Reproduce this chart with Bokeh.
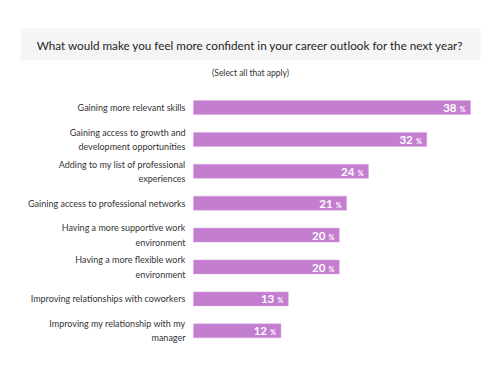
from bokeh.plotting import figure
from bokeh.models import Range1d, ColumnDataSource
from bokeh.core.properties import value
from bokeh.embed import file_html
from bokeh.resources import INLINE

title_text = "What would make you feel more confident in your career outlook for the next year?"
subtitle_text = "(Select all that apply)"
categories = [
    "Gaining more relevant skills",
    "Gaining access to growth and\ndevelopment opportunities",
    "Adding to my list of professional\nexperiences",
    "Gaining access to professional networks",
    "Having a more supportive work\nenvironment",
    "Having a more flexible work\nenvironment",
    "Improving relationships with coworkers",
    "Improving my relationship with my\nmanager",
]
values = [38, 32, 24, 21, 20, 20, 13, 12]
value_labels = [str(v) for v in values]
pct_labels = ["%"] * len(values)

W, H = 500, 375
X0, PX_PER = 193.0, 7.29
Y0, ROW = 107.0, 31.9


def px_x(px):
    return (px - X0) / PX_PER


def px_y(py):
    return (py - Y0) / ROW


rows = list(range(len(categories)))
src = ColumnDataSource(dict(y=rows, v=values, cat=categories, lab=value_labels, pct=pct_labels))

p = figure(width=W, height=H, x_range=Range1d(px_x(0), px_x(W)),
           y_range=Range1d(px_y(H), px_y(0)), output_backend="svg",
           toolbar_location=None, x_axis_type=None, y_axis_type=None,
           min_border=0, min_border_left=0, min_border_right=0,
           min_border_top=0, min_border_bottom=0)
p.grid.visible = False
p.outline_line_color = None
p.background_fill_color = "white"
p.border_fill_color = "white"

# title box
p.quad(left=[px_x(20)], right=[px_x(480)], top=[px_y(28)], bottom=[px_y(60)],
       fill_color="#f5f5f5", line_color=None)
p.text(x=[px_x(250)], y=[px_y(44.5)], text=[title_text], text_align="center",
       text_baseline="middle", text_font=value("Lato"),
       text_font_size="11.7px", text_color="#1e1e1e")
p.text(x=[px_x(250)], y=[px_y(72)], text=[subtitle_text], text_align="center",
       text_baseline="middle", text_font=value("Lato"), text_font_size="8.5px",
       text_color="#333333")

p.hbar(y="y", left=0, right="v", height=0.44, source=src,
       fill_color="#c47ed0", line_color="#d9a8e0", line_width=0.5)

p.text(x=0, y="y", text="cat", source=src, x_offset=-8, text_align="right",
       text_baseline="middle", text_font=value("Lato"), text_font_size="9px",
       text_color="#333333", text_line_height=1.3)

p.text(x="v", y="y", text="lab", source=src, x_offset=-14, y_offset=0.5, text_align="right",
       text_baseline="middle", text_font=value("Lato"), text_font_style="bold",
       text_font_size="11.5px", text_color="white")
p.text(x="v", y="y", text="pct", source=src, x_offset=-5, y_offset=1.5, text_align="right",
       text_baseline="middle", text_font=value("Lato"), text_font_style="bold",
       text_font_size="7px", text_color="white")

open("out.html", "w").write(file_html(p, INLINE))
